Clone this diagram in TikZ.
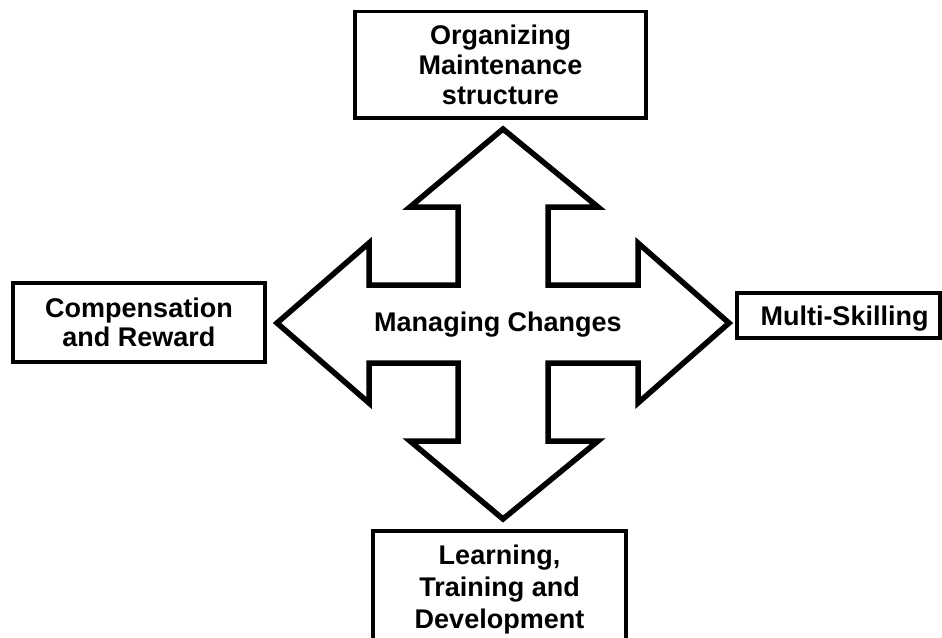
\documentclass[tikz,border=0pt]{standalone}
\usepackage{fontspec}
\setmainfont{Liberation Sans}
\begin{document}
\begin{tikzpicture}[x=1pt, y=-1pt,
  box/.style={draw=black, line width=3.5pt, inner sep=0pt, align=center,
    font=\fontsize{27}{30}\selectfont\bfseries},
  arrowshape/.style={draw=black, fill=white, line width=5.5pt, line join=miter},
  caption/.style={inner sep=0pt, font=\fontsize{27}{30}\selectfont\bfseries}]
\useasboundingbox (0,0) rectangle (942,637);
\fill[white] (0,0) rectangle (942,637);
\clip (0,0) rectangle (942,637);

% four-headed arrow
\draw[arrowshape]
  (503,129) -- (598,207) -- (548,207) -- (548,285) -- (638,285) -- (638,243)
  -- (729,323) -- (638,403) -- (638,363) -- (548,363) -- (548,441) -- (598,441)
  -- (503,519) -- (410,441) -- (458,441) -- (458,363) -- (369,363) -- (369,403)
  -- (277,323) -- (369,243) -- (369,285) -- (458,285) -- (458,207) -- (410,207)
  -- cycle;
\node[caption] (center) at (498,325) {Managing Changes};

% surrounding boxes
\node[box, minimum width=291pt, minimum height=106.5pt] (org) at (500.5,64.5)
  {Organizing\\Maintenance\\structure};
\node[box, minimum width=252pt, minimum height=79pt,
  font=\fontsize{27}{29}\selectfont\bfseries] (comp) at (139,322.5)
  {Compensation\\and Reward};
\node[box, minimum width=203pt, minimum height=45pt, text depth=0pt] (multi) at (838.5,315.5)
  {\hspace*{12pt}Multi-Skilling};
\node[box, minimum width=253pt, minimum height=117pt,
  font=\fontsize{27}{32}\selectfont\bfseries] (learn) at (499.5,589.5)
  {Learning,\\Training and\\Development};
\end{tikzpicture}
\end{document}
